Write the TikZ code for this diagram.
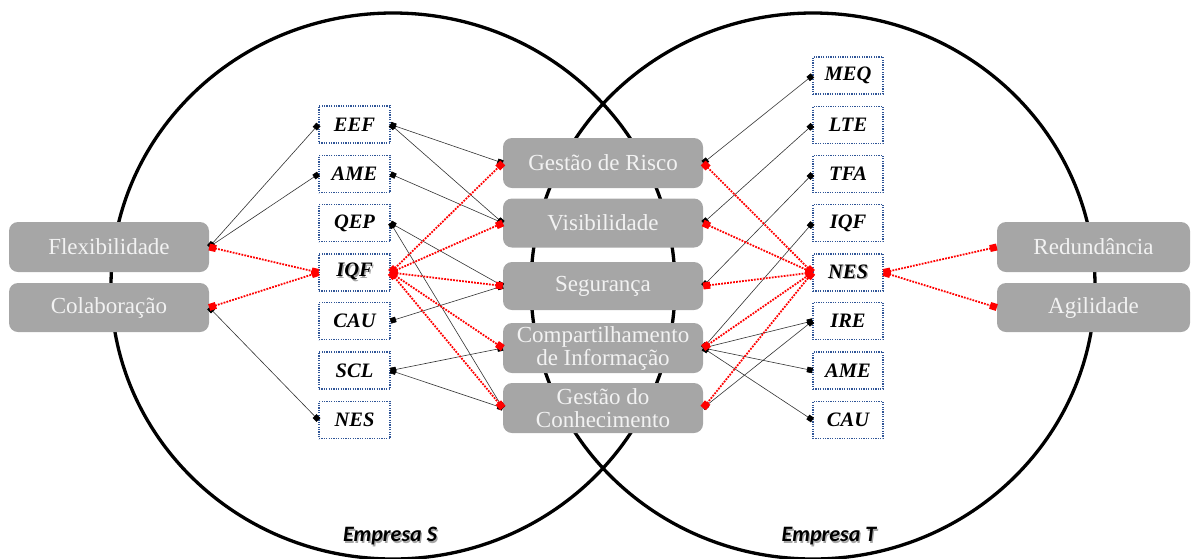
\documentclass[tikz,border=0pt]{standalone}
\usepackage{fontspec}
\setmainfont{Liberation Serif}
\newfontfamily\calib{Carlito}
\usetikzlibrary{arrows.meta}
\definecolor{boxgray}{HTML}{A6A6A6}
\definecolor{dotblue}{HTML}{2F5597}
\newcommand\shd[1]{\makebox[0pt][l]{\hspace{1.3pt}\raisebox{-1.3pt}{\textcolor{black!35}{#1}}}#1}
\begin{document}
\begin{tikzpicture}[x=1pt,y=-1pt,
  gbox/.style={fill=boxgray, rounded corners=9pt, text=white!95!black, minimum width=200pt, minimum height=50pt, inner sep=0pt, align=center, font=\fontsize{23}{23}\selectfont},
  cbox/.style={draw=dotblue, line width=1.1pt, dash pattern=on 1.2pt off 1.2pt, minimum width=71pt, minimum height=37pt, inner sep=0pt, font=\fontsize{20.5}{20.5}\selectfont\bfseries\itshape},
  bl/.style={draw=black!80, line width=0.6pt, {Square[length=5.5pt,width=5.5pt,black]}-{Square[length=5.5pt,width=5.5pt,black]}},
  rd/.style={draw=red, line width=1.8pt, dash pattern=on 1.8pt off 1.2pt, {Square[length=7pt,width=7pt]}-{Square[length=7pt,width=7pt]}},
  emp/.style={font=\calib\fontsize{22}{22}\selectfont\bfseries\itshape, inner sep=0pt},
  ring/.style={draw=black, line width=3.3pt}
]
\useasboundingbox (0,0) rectangle (1191,558);
% company circles
\draw[ring] (393,286) ellipse [x radius=282, y radius=273];
\draw[ring] (813,286) ellipse [x radius=282, y radius=273];

% outer gray boxes
\node[gbox] (flex) at (109,247) {Flexibilidade};
\node[gbox, minimum height=49pt] (colab) at (109,307.5) {Colaboração};
\node[gbox, minimum width=193pt] (redund) at (1093.5,247) {Redundância};
\node[gbox, minimum width=193pt, minimum height=49pt] (agil) at (1093.5,307.5) {Agilidade};

% central gray boxes
\node[gbox] (risco) at (603,163) {Gestão de Risco};
\node[gbox, minimum height=49pt] (visib) at (603,223) {Visibilidade};
\node[gbox, minimum height=48pt] (segur) at (603,286) {Segurança};
\node[gbox] (compart) at (603,348) {Compartilhamento\\de Informação};
\node[gbox] (conhec) at (603,408) {Gestão do\\Conhecimento};

% left code boxes
\node[cbox] (eef) at (354.5,124.5) {EEF};
\node[cbox] (ameL) at (354.5,174) {AME};
\node[cbox] (qep) at (354.5,223) {QEP};
\node[cbox] (iqfL) at (354.5,272.5) {\shd{IQF}};
\node[cbox] (cauL) at (354.5,321) {CAU};
\node[cbox] (scl) at (354.5,370.5) {SCL};
\node[cbox] (nesL) at (354.5,420) {NES};

% right code boxes
\node[cbox, minimum width=70pt] (meq) at (848,75.5) {MEQ};
\node[cbox, minimum width=70pt] (lte) at (848,125) {LTE};
\node[cbox, minimum width=70pt] (tfa) at (848,174) {TFA};
\node[cbox, minimum width=70pt] (iqfR) at (848,223) {IQF};
\node[cbox, minimum width=70pt] (nesR) at (848,272.5) {\shd{NES}};
\node[cbox, minimum width=70pt] (ire) at (848,321) {IRE};
\node[cbox, minimum width=70pt] (ameR) at (848,370.5) {AME};
\node[cbox, minimum width=70pt] (cauR) at (848,420) {CAU};

% company labels
\node[emp] (empS) at (390,537) {\shd{Empresa S}};
\node[emp] (empT) at (829,537) {\shd{Empresa T}};

% black connectors, left
\draw[bl] (flex.east) -- (eef.west);
\draw[bl] (flex.east) -- (ameL.west);
\draw[bl] (colab.east) -- (nesL.west);
\draw[bl] (eef.east) -- (risco.west);
\draw[bl] (eef.east) -- (visib.west);
\draw[bl] (ameL.east) -- (visib.west);
\draw[bl] (qep.east) -- (segur.west);
\draw[bl] (qep.east) -- (conhec.west);
\draw[bl] (cauL.east) -- (segur.west);
\draw[bl] (scl.east) -- (compart.west);
\draw[bl] (scl.east) -- (conhec.west);
% black connectors, right
\draw[bl] (risco.east) -- (meq.west);
\draw[bl] (visib.east) -- (lte.west);
\draw[bl] (segur.east) -- (tfa.west);
\draw[bl] (compart.east) -- (iqfR.west);
\draw[bl] (compart.east) -- (ire.west);
\draw[bl] (compart.east) -- (ameR.west);
\draw[bl] (compart.east) -- (cauR.west);
\draw[bl] (conhec.east) -- (ire.west);

% red dotted connectors
\draw[rd] (flex.east) -- (iqfL.west);
\draw[rd] (colab.east) -- (iqfL.west);
\foreach \t in {risco,visib,segur,compart,conhec}{
  \draw[rd] (iqfL.east) -- (\t.west);
  \draw[rd] (\t.east) -- (nesR.west);
}
\draw[rd] (nesR.east) -- (redund.west);
\draw[rd] (nesR.east) -- (agil.west);
\end{tikzpicture}
\end{document}
